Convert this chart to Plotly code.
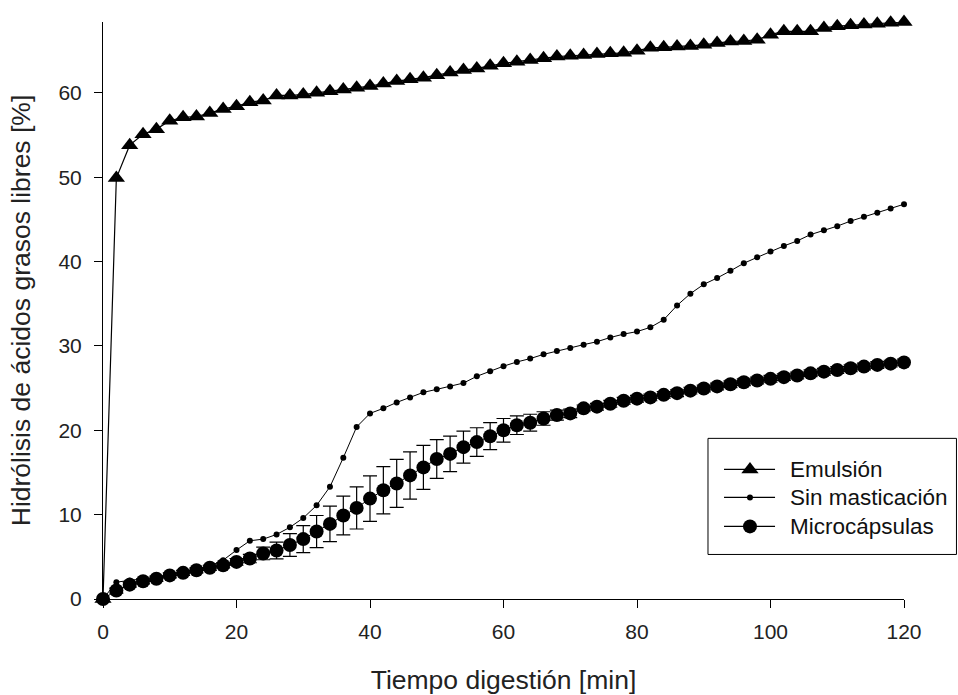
import plotly.graph_objects as go

tiempo = list(range(0, 121, 2))

emulsion = [0, 49.9, 53.8, 55.1, 55.7, 56.7, 57.1, 57.2, 57.6, 58.1,
            58.4, 58.9, 59.1, 59.7, 59.7, 59.8, 60.0, 60.2, 60.4, 60.6,
            60.8, 61.1, 61.4, 61.6, 61.8, 62.1, 62.4, 62.7, 62.9, 63.2,
            63.5, 63.7, 63.9, 64.1, 64.3, 64.4, 64.5, 64.6, 64.7, 64.75,
            65.0, 65.35, 65.4, 65.5, 65.55, 65.7, 65.9, 66.1, 66.15, 66.3,
            66.9, 67.3, 67.3, 67.3, 67.7, 67.9, 68.0, 68.1, 68.2, 68.3, 68.4]

sin_masticacion = [0, 2.0, 2.2, 2.4, 2.6, 2.9, 3.2, 3.5, 3.9, 4.6,
                   5.8, 6.9, 7.1, 7.65, 8.5, 9.6, 11.1, 13.3, 16.75, 20.4,
                   22.0, 22.6, 23.3, 23.9, 24.5, 24.85, 25.2, 25.6, 26.4, 27.0,
                   27.6, 28.1, 28.5, 29.0, 29.4, 29.75, 30.15, 30.5, 31.0, 31.4,
                   31.7, 32.2, 33.1, 34.8, 36.2, 37.3, 38.05, 38.9, 39.8, 40.5,
                   41.2, 41.85, 42.45, 43.2, 43.7, 44.2, 44.8, 45.3, 45.8, 46.3, 46.8]

microcapsulas = [0, 1.0, 1.7, 2.1, 2.4, 2.8, 3.1, 3.4, 3.7, 4.0,
                 4.4, 4.8, 5.4, 5.75, 6.4, 7.1, 8.0, 8.9, 9.9, 10.8,
                 11.9, 12.9, 13.7, 14.65, 15.6, 16.6, 17.2, 18.0, 18.6, 19.3,
                 20.0, 20.6, 20.9, 21.4, 21.8, 22.0, 22.6, 22.8, 23.15, 23.5,
                 23.75, 23.9, 24.2, 24.4, 24.7, 24.95, 25.2, 25.45, 25.7, 25.9,
                 26.1, 26.3, 26.5, 26.75, 26.95, 27.15, 27.35, 27.55, 27.75, 27.9, 28.05]

microcapsulas_sd = [0, 0.3, 0.3, 0.3, 0.3, 0.3, 0.3, 0.3, 0.3, 0.3,
                    0.4, 0.5, 0.75, 1.0, 1.35, 1.6, 1.9, 2.1, 2.3, 2.5,
                    2.7, 2.8, 2.85, 2.8, 2.6, 2.3, 2.1, 1.9, 1.7, 1.6,
                    1.4, 1.1, 1.0, 0.8, 0.6, 0.5, 0.4, 0.4, 0.4, 0.4,
                    0.4, 0.4, 0.4, 0.4, 0.4, 0.4, 0.4, 0.4, 0.4, 0.4,
                    0.4, 0.4, 0.4, 0.4, 0.4, 0.4, 0.4, 0.4, 0.4, 0.4, 0.4]

x_ticks = [0, 20, 40, 60, 80, 100, 120]
y_ticks = [0, 10, 20, 30, 40, 50, 60]

series_names = ["Emulsión", "Sin masticación", "Microcápsulas"]

FONT = "Liberation Sans, Arial, sans-serif"

styles = [
    dict(line=dict(color="black", width=1.2),
         marker=dict(symbol="triangle-up", size=15, color="black")),
    dict(line=dict(color="black", width=1),
         marker=dict(symbol="circle", size=6, color="black")),
    dict(line=dict(color="black", width=1),
         marker=dict(symbol="circle", size=14, color="black")),
]
values = [emulsion, sin_masticacion, microcapsulas]

fig = go.Figure()

for i, (name, vals) in enumerate(zip(series_names, values)):
    kw = dict(styles[i])
    if name == "Microcápsulas":
        kw["error_y"] = dict(type="data", array=microcapsulas_sd, color="black",
                             thickness=1.2, width=7)
    fig.add_trace(go.Scatter(
        x=tiempo, y=vals, name=name, mode="lines+markers",
        showlegend=False, cliponaxis=False, **kw,
    ))

# Hand-built legend (box, sample lines, markers, labels) in paper-like coords
leg_x0, leg_x1 = 0.7553, 1.0655
leg_y0, leg_y1 = 0.0772, 0.2784
row_y = [0.2246, 0.1761, 0.1258]
line_x0, line_x1, mark_x, text_x = 0.7753, 0.8390, 0.8077, 0.8552

shapes = [dict(type="rect", xref="paper", yref="paper",
               x0=leg_x0, x1=leg_x1, y0=leg_y0, y1=leg_y1,
               line=dict(color="black", width=1), fillcolor="white", layer="below")]
annotations = []
for i, name in enumerate(series_names):
    shapes.append(dict(type="line", xref="paper", yref="paper",
                       x0=line_x0, x1=line_x1, y0=row_y[i], y1=row_y[i],
                       line=dict(color="black", width=1.2), layer="below"))
    annotations.append(dict(x=text_x, y=row_y[i], xref="paper", yref="paper",
                            text=name, showarrow=False, xanchor="left", yanchor="middle",
                            font=dict(size=22.5, family=FONT, color="#111")))
    fig.add_trace(go.Scatter(
        x=[mark_x], y=[row_y[i]], xaxis="x2", yaxis="y2", mode="markers",
        marker=styles[i]["marker"], showlegend=False, cliponaxis=False,
        hoverinfo="skip",
    ))

fig.update_layout(
    width=958, height=695,
    margin=dict(l=103, r=54, t=22, b=96, autoexpand=False),
    paper_bgcolor="white", plot_bgcolor="white",
    font=dict(family=FONT, color="black", size=20),
    showlegend=False,
    shapes=shapes,
    annotations=annotations,
    xaxis=dict(
        range=[0, 120], tickvals=x_ticks, showgrid=False, zeroline=False,
        showline=True, linecolor="black", linewidth=1,
        ticks="outside", ticklen=8, tickcolor="black", tickwidth=1,
        ticklabelstandoff=6,
        tickfont=dict(size=21, family=FONT, color="#222"),
        title=dict(text="Tiempo digestión [min]", standoff=30,
                   font=dict(size=26.5, family=FONT, color="#222")),
    ),
    yaxis=dict(
        range=[0, 68.4], tickvals=y_ticks, showgrid=False, zeroline=False,
        showline=True, linecolor="black", linewidth=1,
        ticks="outside", ticklen=8, tickcolor="black", tickwidth=1,
        ticklabelstandoff=8,
        tickfont=dict(size=21, family=FONT, color="#222"),
        title=dict(text="Hidrólisis de ácidos grasos libres [%]", standoff=20,
                   font=dict(size=26.5, family=FONT, color="#222")),
    ),
    xaxis2=dict(overlaying="x", range=[0, 1], visible=False, fixedrange=True),
    yaxis2=dict(overlaying="y", range=[0, 1], visible=False, fixedrange=True),
)

fig.write_html("out.html")
